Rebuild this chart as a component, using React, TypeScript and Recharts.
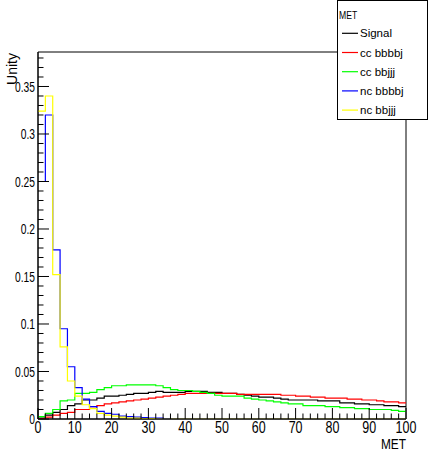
import React from 'react';
import { LineChart, Line, XAxis, YAxis, Legend, ReferenceArea, Label } from 'recharts';

// Histogram bins: low edges (bin width 2), MET from 0 to 100
const binLowEdges = [
  0, 2, 4, 6, 8, 10, 12, 14, 16, 18,
  20, 22, 24, 26, 28, 30, 32, 34, 36, 38,
  40, 42, 44, 46, 48, 50, 52, 54, 56, 58,
  60, 62, 64, 66, 68, 70, 72, 74, 76, 78,
  80, 82, 84, 86, 88, 90, 92, 94, 96, 98,
];
const xUpperEdge = 100;

const signal = [
  0.001, 0.004, 0.007, 0.010, 0.014, 0.016, 0.020, 0.020, 0.022, 0.024,
  0.024, 0.025, 0.026, 0.027, 0.027, 0.028, 0.029, 0.028, 0.028, 0.028,
  0.029, 0.029, 0.029, 0.028, 0.028, 0.027, 0.027, 0.026, 0.025, 0.024,
  0.023, 0.023, 0.022, 0.021, 0.020, 0.020, 0.020, 0.020, 0.019, 0.019,
  0.019, 0.017, 0.017, 0.016, 0.016, 0.015, 0.015, 0.014, 0.014, 0.013,
];
const ccBbbbj = [
  0.0005, 0.002, 0.004, 0.006, 0.007, 0.010, 0.010, 0.013, 0.014, 0.016,
  0.017, 0.018, 0.019, 0.020, 0.021, 0.022, 0.023, 0.024, 0.025, 0.026,
  0.027, 0.027, 0.027, 0.027, 0.027, 0.027, 0.027, 0.026, 0.026, 0.026,
  0.026, 0.026, 0.026, 0.025, 0.025, 0.024, 0.024, 0.023, 0.023, 0.022,
  0.022, 0.022, 0.021, 0.021, 0.020, 0.020, 0.019, 0.018, 0.018, 0.017,
];
const ccBbjjj = [
  0.0025, 0.006, 0.010, 0.019, 0.020, 0.027, 0.027, 0.028, 0.031, 0.033,
  0.035, 0.035, 0.036, 0.036, 0.036, 0.036, 0.035, 0.033, 0.031, 0.030,
  0.030, 0.029, 0.028, 0.027, 0.025, 0.024, 0.024, 0.024, 0.022, 0.021,
  0.020, 0.019, 0.018, 0.017, 0.016, 0.016, 0.014, 0.014, 0.014, 0.013,
  0.013, 0.012, 0.012, 0.011, 0.011, 0.010, 0.010, 0.010, 0.009, 0.008,
];
const ncBbbbj = [
  0.25, 0.32, 0.178, 0.095, 0.055, 0.033, 0.021, 0.013, 0.008, 0.006,
  0.005, 0.003, 0.0025, 0.002, 0.0015, 0.001, 0.001, 0.0005, 0, 0,
  0, 0, 0, 0, 0, 0, 0, 0, 0, 0,
  0, 0, 0, 0, 0, 0, 0, 0, 0, 0,
  0, 0, 0, 0, 0, 0, 0, 0, 0, 0,
];
const ncBbjjj = [
  0.324, 0.34, 0.152, 0.076, 0.040, 0.024, 0.015, 0.011, 0.006, 0.004,
  0.003, 0.002, 0.001, 0.001, 0.0005, 0.0005, 0, 0, 0, 0,
  0, 0, 0, 0, 0, 0, 0, 0, 0, 0,
  0, 0, 0, 0, 0, 0, 0, 0, 0, 0,
  0, 0, 0, 0, 0, 0, 0, 0, 0, 0,
];

const seriesKeys = ['signal', 'ccBbbbj', 'ccBbjjj', 'ncBbbbj', 'ncBbjjj'];
const seriesNames = ['Signal', 'cc bbbbj', 'cc bbjjj', 'nc bbbbj', 'nc bbjjj'];
const seriesColors = ['#000000', '#ff0000', '#00ff00', '#0000ff', '#ffff00'];
const seriesValues = [signal, ccBbbbj, ccBbjjj, ncBbbbj, ncBbjjj];

const legendTitle = 'MET';
const xTitle = 'MET';
const yTitle = 'Unity';

const xMin = 0;
const xMax = 100;
const yMin = 0;
const yMax = 0.3863;

const xTicks = [
  0, 2, 4, 6, 8, 10, 12, 14, 16, 18, 20, 22, 24, 26, 28, 30, 32, 34, 36, 38,
  40, 42, 44, 46, 48, 50, 52, 54, 56, 58, 60, 62, 64, 66, 68, 70, 72, 74, 76, 78,
  80, 82, 84, 86, 88, 90, 92, 94, 96, 98, 100,
];
const xMajorTicks = [0, 10, 20, 30, 40, 50, 60, 70, 80, 90, 100];
const xMajorLabels = ['0', '10', '20', '30', '40', '50', '60', '70', '80', '90', '100'];

const yTicks = [
  0, 0.01, 0.02, 0.03, 0.04, 0.05, 0.06, 0.07, 0.08, 0.09,
  0.1, 0.11, 0.12, 0.13, 0.14, 0.15, 0.16, 0.17, 0.18, 0.19,
  0.2, 0.21, 0.22, 0.23, 0.24, 0.25, 0.26, 0.27, 0.28, 0.29,
  0.3, 0.31, 0.32, 0.33, 0.34, 0.35, 0.36, 0.37, 0.38,
];
const yMajorTicks = [0, 0.05, 0.1, 0.15, 0.2, 0.25, 0.3, 0.35];
const yMajorLabels = ['0', '0.05', '0.1', '0.15', '0.2', '0.25', '0.3', '0.35'];

const FONT = '"Liberation Sans", Arial, Helvetica, sans-serif';

// Build the step table: one point per bin low edge, plus a closing point at the upper edge
const data: Record<string, number>[] = binLowEdges.map((edge, i) => {
  const row: Record<string, number> = { met: edge };
  seriesKeys.forEach((k, s) => {
    row[k] = seriesValues[s][i];
  });
  return row;
});
{
  const last = binLowEdges.length - 1;
  const row: Record<string, number> = { met: xUpperEdge };
  seriesKeys.forEach((k, s) => {
    row[k] = seriesValues[s][last];
  });
  data.push(row);
}

const YTick = (props: any) => {
  const { x, y, payload } = props;
  const v = payload.value;
  const idx = yMajorTicks.findIndex((m) => Math.abs(m - v) < 1e-6);
  const major = idx >= 0;
  return (
    <g>
      <line x1={x} x2={x + (major ? 11 : 5.5)} y1={y} y2={y} stroke="#000" strokeWidth={1} />
      {major && (
        <text
          transform={`translate(${x - 3},${y + 5.3}) scale(0.685,1)`}
          textAnchor="end"
          fontSize={15}
          fontFamily={FONT}
          fill="#000"
        >
          {yMajorLabels[idx]}
        </text>
      )}
    </g>
  );
};

const XTick = (props: any) => {
  const { x, y, payload } = props;
  const v = payload.value;
  const idx = xMajorTicks.findIndex((m) => Math.abs(m - v) < 1e-6);
  const major = idx >= 0;
  return (
    <g>
      <line x1={x} x2={x} y1={y} y2={y - (major ? 11 : 5.5)} stroke="#000" strokeWidth={1} />
      {major && (
        <text
          transform={`translate(${x},${y + 14.3}) scale(0.78,1)`}
          textAnchor="middle"
          fontSize={16}
          fontFamily={FONT}
          fill="#000"
        >
          {xMajorLabels[idx]}
        </text>
      )}
    </g>
  );
};

const renderLegend = (props: any) => {
  const payload = props.payload || [];
  return (
    <svg width={91} height={120} style={{ display: 'block' }}>
      <rect x={0.5} y={0.5} width={90} height={119} fill="#fff" stroke="#000" strokeWidth={1} />
      <text
        transform="translate(2,18.5) scale(0.75,1)"
        fontSize={11.5}
        fontFamily={FONT}
        fill="#000"
      >
        {legendTitle}
      </text>
      {payload.map((p: any, i: number) => {
        const cy = 33.3 + i * 19.2;
        return (
          <g key={i}>
            <line x1={5} x2={21} y1={cy} y2={cy} stroke={p.color} strokeWidth={1.2} />
            <text x={23} y={cy + 4} fontSize={11.5} fontFamily={FONT} fill="#000">
              {p.value}
            </text>
          </g>
        );
      })}
    </svg>
  );
};

export default function App() {
  return (
    <div
      style={{
        position: 'absolute',
        left: 0,
        top: 0,
        width: 428,
        height: 451,
        background: '#fff',
      }}
    >
      <LineChart
        width={428}
        height={451}
        data={data}
        margin={{ top: 52, right: 22, left: 0, bottom: 0 }}
      >
        <ReferenceArea
          x1={xMin}
          x2={xMax}
          y1={yMin}
          y2={yMax}
          fill="none"
          stroke="#000"
          strokeWidth={1}
          ifOverflow="visible"
        />
        <XAxis
          dataKey="met"
          type="number"
          domain={[xMin, xMax]}
          ticks={xTicks}
          interval={0}
          allowDataOverflow
          height={32}
          tickSize={0}
          tickMargin={0}
          tickLine={false}
          tick={<XTick />}
          axisLine={{ stroke: '#000' }}
        >
          <Label
            content={(p: any) => {
              const vb = p.viewBox;
              return (
                <text
                  transform={`translate(${vb.x + vb.width},${vb.y + 29.5}) scale(0.85,1)`}
                  textAnchor="end"
                  fontSize={14}
                  fontFamily={FONT}
                  fill="#000"
                >
                  {xTitle}
                </text>
              );
            }}
          />
        </XAxis>
        <YAxis
          type="number"
          domain={[yMin, yMax]}
          ticks={yTicks}
          interval={0}
          allowDataOverflow
          width={38}
          tickSize={0}
          tickMargin={0}
          tickLine={false}
          tick={<YTick />}
          axisLine={{ stroke: '#000' }}
        >
          <Label
            content={(p: any) => {
              const vb = p.viewBox;
              return (
                <text
                  transform={`translate(${vb.x + 16.5},${vb.y + 1}) rotate(-90)`}
                  textAnchor="end"
                  fontSize={14}
                  fontFamily={FONT}
                  fill="#000"
                >
                  {yTitle}
                </text>
              );
            }}
          />
        </YAxis>
        {seriesKeys.map((k, i) => (
          <Line
            key={k}
            type="stepAfter"
            dataKey={k}
            name={seriesNames[i]}
            stroke={seriesColors[i]}
            strokeWidth={1.2}
            dot={false}
            activeDot={false}
            isAnimationActive={false}
          />
        ))}
        <Legend
          layout="vertical"
          align="center"
          verticalAlign="middle"
          content={renderLegend}
          wrapperStyle={{ left: 337, top: 0, width: 91, height: 120 }}
        />
      </LineChart>
    </div>
  );
}
